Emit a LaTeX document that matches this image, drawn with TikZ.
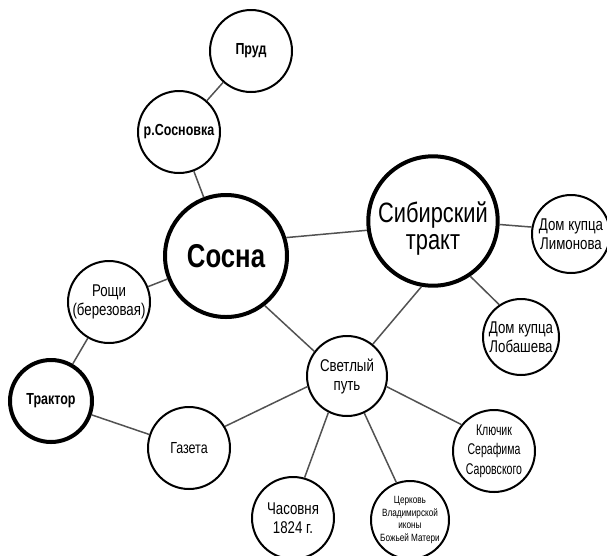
\documentclass[tikz,border=0pt]{standalone}
\usepackage{fontspec}
\setmainfont{Liberation Sans}[FakeStretch=0.78]
\newfontfamily\narrowerfont{Liberation Sans}[FakeStretch=0.68]
\begin{document}
\begin{tikzpicture}[x=1pt,y=-1pt,
  bub/.style={circle, draw=black, line width=2pt, fill=white, inner sep=0pt,
    minimum size=82pt, align=center, font=\fontsize{17}{19}\selectfont},
  bigbub/.style={bub, line width=4pt},
  link/.style={draw=black!68, line width=1.5pt}]
\useasboundingbox (0,0) rectangle (607,555);
\node[bub, font=\bfseries\fontsize{16}{19}\selectfont] (prud) at (251,51) {Пруд};
\node[bub, font=\bfseries\fontsize{16}{19}\selectfont] (sosn) at (179,132) {р.Сосновка};
\node[bigbub, minimum size=122pt, font=\bfseries\fontsize{33}{36}\selectfont] (sosna) at (226,256) {Сосна};
\node[bigbub, minimum size=122pt, font=\fontsize{28}{27}\selectfont] (sib) at (433,221) {\rule{0pt}{36pt}Сибирский\\тракт};
\node[bub, minimum size=78pt] (lim) at (571,234) {Дом купца\\Лимонова};
\node[bub, minimum size=76pt] (lob) at (521,337) {Дом купца\\Лобашева};
\node[bub] (roshchi) at (109,302) {Рощи\\(березовая)};
\node[bigbub, font=\bfseries\fontsize{16}{19}\selectfont] (traktor) at (51,401) {Трактор};
\node[bub, font=\fontsize{16}{19}\selectfont] (gazeta) at (189,448) {Газета};
\node[bub, minimum size=80pt] (svet) at (347,376) {Светлый\\путь};
\node[bub, font=\narrowerfont\fontsize{15.5}{19.5}\selectfont] (klyuch) at (494,451) {Ключик\\Серафима\\Саровского};
\node[bub] (chas) at (293,518) {Часовня\\1824 г.};
\node[bub, minimum size=78pt, font=\fontsize{10.5}{12.5}\selectfont] (cerk) at (410,520) {Церковь\\Владимирской\\иконы\\Божьей Матери};
\draw[link] (prud) -- (sosn);
\draw[link] (sosn) -- (sosna);
\draw[link] (sosna) -- (roshchi);
\draw[link] (roshchi) -- (traktor);
\draw[link] (traktor) -- (gazeta);
\draw[link] (sosna.17) -- (sib.188);
\draw[link] (sib.-3) -- (lim.170);
\draw[link] (sib.-56) -- (lob.124);
\draw[link] (sib.260) -- (svet.51);
\draw[link] (sosna.-52) -- (svet.143);
\draw[link] (svet.195) -- (gazeta.31);
\draw[link] (svet.-15) -- (klyuch.141);
\draw[link] (svet.243) -- (chas.74);
\draw[link] (svet.-65) -- (cerk.110);
\end{tikzpicture}
\end{document}
